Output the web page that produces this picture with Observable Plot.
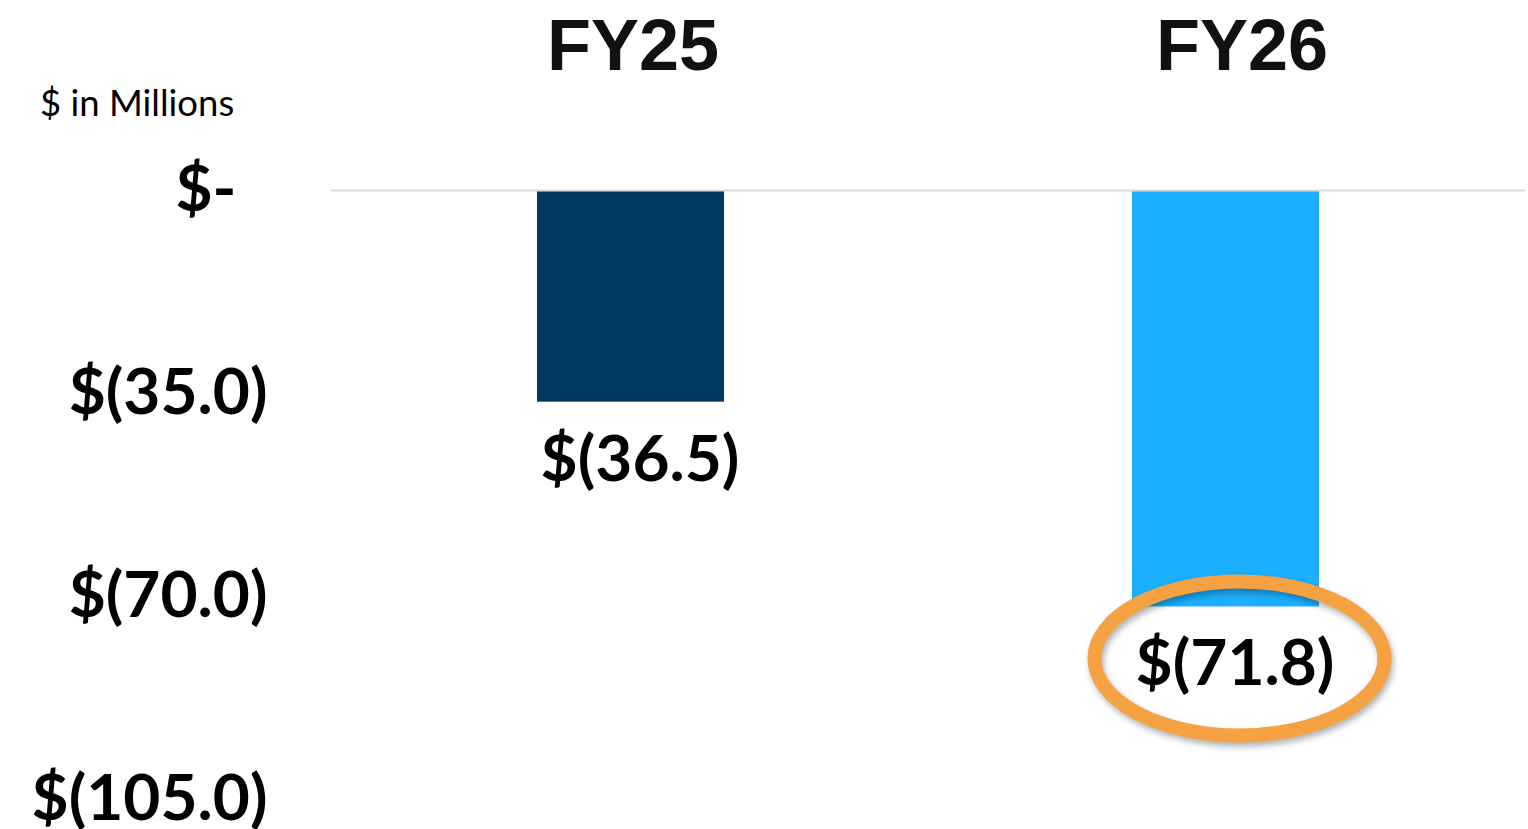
<!DOCTYPE html>
<html><head><meta charset="utf-8">
<script src="https://cdn.jsdelivr.net/npm/d3@7"></script>
<script src="https://cdn.jsdelivr.net/npm/@observablehq/plot@0.6"></script>
<style>
body{margin:0;background:#fff;}
#wrap{position:relative;width:1528px;height:829px;overflow:hidden;}
#unit{position:absolute;left:40px;top:84px;font-family:Lato,sans-serif;font-size:36.5px;color:#000;line-height:1;z-index:2;}
#chart{position:absolute;left:0;top:0;}
</style></head><body>
<div id="wrap"><div id="unit">$ in Millions</div><div id="chart"></div></div>
<script>
const categories = ["FY25", "FY26"];
const values = [-36.5, -71.8];
const yTicks = [0, -35, -70, -105];
const barColors = ["#033A62", "#1BAFFF"];
const highlighted = "FY26";

const data = categories.map((c, i) => ({category: c, value: values[i]}));
const fmt = v => v === 0 ? "$-" : `$(${Math.abs(v).toFixed(1)})`;
const labelFont = {fontFamily: "Lato, sans-serif", fontWeight: "bold", fontSize: 64};
const headFont = {fontFamily: "Liberation Sans, Arial, sans-serif", fontWeight: "bold", fontSize: 72, fill: "#111", stroke: "#111", strokeWidth: 1.5};

const chart = Plot.plot({
  width: 1528,
  height: 829,
  marginTop: 190,
  marginBottom: 30,
  marginLeft: 331,
  marginRight: 3,
  style: {background: "white", overflow: "visible"},
  x: {domain: categories, paddingInner: 0.686, paddingOuter: 0.345},
  y: {domain: [-105, 0]},
  color: {domain: categories, range: barColors},
  marks: [
    Plot.barY(data, {x: "category", y: "value", fill: "category"}),
    Plot.ruleY([0], {stroke: "#d9d9d9", strokeWidth: 2}),
    Plot.axisY(yTicks.filter(t => t !== 0), {tickSize: 0, tickPadding: 64, tickFormat: fmt, label: null, fill: "#000", ...labelFont}),
    Plot.axisY(yTicks.filter(t => t === 0), {tickSize: 0, tickPadding: 95, tickFormat: fmt, label: null, fill: "#000", ...labelFont}),
    Plot.axisX([categories[0]], {anchor: "top", tickSize: 0, tickPadding: 121, label: null, dx: 2, ...headFont}),
    Plot.axisX([categories[1]], {anchor: "top", tickSize: 0, tickPadding: 121, label: null, dx: 16, ...headFont}),
    Plot.text(data, {x: "category", y: "value", text: d => fmt(d.value), dy: 58, dx: 9, fill: "#000", ...labelFont})
  ]
});

// highlight ring around the FY26 value label, positioned through the chart's own scales
const xs = chart.scale("x"), ys = chart.scale("y");
const hd = data.find(e => e.category === highlighted);
const ns = "http://www.w3.org/2000/svg";
const ring = document.createElementNS(ns, "ellipse");
ring.setAttribute("cx", xs.apply(hd.category) + xs.bandwidth / 2 + 14);
ring.setAttribute("cy", ys.apply(hd.value) + 52);
ring.setAttribute("rx", 145);
ring.setAttribute("ry", 77);
ring.setAttribute("fill", "none");
ring.setAttribute("stroke", "#F6A142");
ring.setAttribute("stroke-width", 14);
ring.setAttribute("style", "filter: drop-shadow(2px 4px 3px rgba(0,0,0,0.3))");
chart.appendChild(ring);
document.getElementById("chart").appendChild(chart);
</script>
</body></html>
